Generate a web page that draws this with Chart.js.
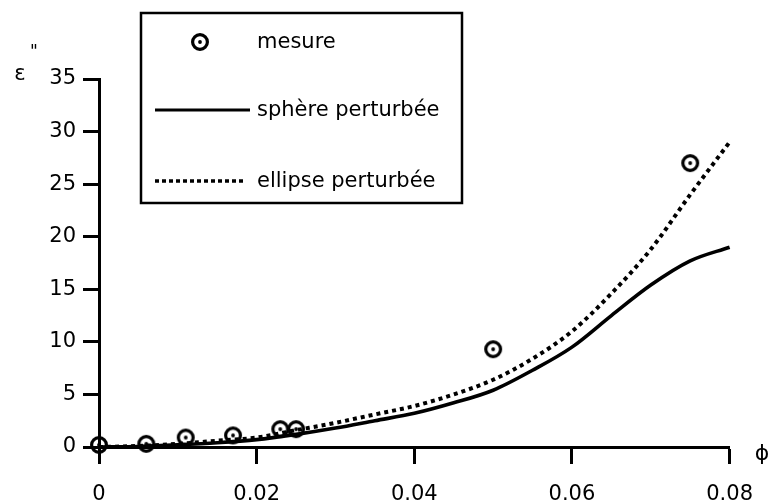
<!DOCTYPE html>
<html>
<head>
<meta charset="utf-8">
<script src="https://cdn.jsdelivr.net/npm/chart.js@4/dist/chart.umd.min.js"></script>
<style>
	html, body { margin: 0; padding: 0; background: #fff; }
	#wrap { width: 771px; height: 502px; }
</style>
</head>
<body>
<div id="wrap"><canvas id="eps-chart" width="771" height="502"></canvas></div>
<script>
// volume fraction grid for the model curves
const phiGrid = [0, 0.005, 0.01, 0.015, 0.02, 0.025, 0.03, 0.035, 0.04, 0.045, 0.05, 0.055, 0.06, 0.065, 0.07, 0.075, 0.08]
const sphereValues = [0, 0.05, 0.2, 0.4, 0.7, 1.2, 1.8, 2.5, 3.2, 4.2, 5.4, 7.3, 9.5, 12.5, 15.4, 17.7, 19.0]
const ellipseValues = [0, 0.1, 0.3, 0.6, 0.9, 1.6, 2.3, 3.1, 3.9, 5.0, 6.4, 8.4, 11.0, 14.6, 18.8, 24.0, 29.0]

// measured points
const mesurePhi = [0, 0.006, 0.011, 0.017, 0.023, 0.025, 0.05, 0.075]
const mesureValues = [0.2, 0.3, 0.9, 1.1, 1.7, 1.7, 9.3, 27.0]

const xTicks = [0, 0.02, 0.04, 0.06, 0.08]
const yTicks = [0, 5, 10, 15, 20, 25, 30, 35]

const legendLabels = ['mesure', 'sphère perturbée', 'ellipse perturbée']

const FONT = '"DejaVu Sans", "Liberation Sans", sans-serif'

toPoints = (xs, ys) => xs.map((x, i) => ({ x: x, y: ys[i] }))

// circle with a dot in the middle
makeMarker = () => {
	const c = document.createElement('canvas')
	c.width = 22
	c.height = 22
	const g = c.getContext('2d')
	g.strokeStyle = '#000'
	g.lineWidth = 3.2
	g.beginPath()
	g.arc(11, 11, 7.4, 0, Math.PI * 2)
	g.stroke()
	g.fillStyle = '#000'
	g.beginPath()
	g.arc(11, 11, 1.9, 0, Math.PI * 2)
	g.fill()
	return c
}
const marker = makeMarker()

const boxLegend = {
	id: 'boxLegend',
	afterDraw: (chart) => {
		const ctx = chart.ctx
		ctx.save()
		ctx.strokeStyle = '#000'
		ctx.fillStyle = '#000'
		ctx.lineWidth = 2.5
		ctx.strokeRect(141, 13, 321, 190)

		ctx.drawImage(marker, 200 - 11, 42 - 11)

		ctx.lineWidth = 3
		ctx.beginPath()
		ctx.moveTo(155, 110)
		ctx.lineTo(250, 110)
		ctx.stroke()

		ctx.lineWidth = 3.5
		ctx.setLineDash([4, 3])
		ctx.beginPath()
		ctx.moveTo(155, 181)
		ctx.lineTo(246, 181)
		ctx.stroke()
		ctx.setLineDash([])

		ctx.font = '21px ' + FONT
		ctx.textBaseline = 'alphabetic'
		ctx.textAlign = 'left'
		ctx.fillText(legendLabels[0], 257, 48)
		ctx.fillText(legendLabels[1], 257, 116)
		ctx.fillText(legendLabels[2], 257, 187)

		// axis symbols
		ctx.textAlign = 'center'
		ctx.textBaseline = 'middle'
		ctx.font = '21px ' + FONT
		ctx.fillText('ε', 20, 75)
		ctx.font = '17px ' + FONT
		ctx.fillText('"', 34, 53)
		ctx.font = '22px ' + FONT
		ctx.fillText('ϕ', 762, 454)
		ctx.restore()
	}
}

const config = {
	type: 'scatter',
	data: {
		datasets: [
			{
				label: legendLabels[0],
				data: toPoints(mesurePhi, mesureValues),
				pointStyle: marker,
				pointRadius: 11,
				showLine: false,
				clip: false,
				order: 0
			},
			{
				label: legendLabels[1],
				data: toPoints(phiGrid, sphereValues),
				showLine: true,
				borderColor: '#000',
				borderWidth: 3.6,
				pointRadius: 0,
				cubicInterpolationMode: 'monotone',
				clip: false,
				order: 1
			},
			{
				label: legendLabels[2],
				data: toPoints(phiGrid, ellipseValues),
				showLine: true,
				borderColor: '#000',
				borderWidth: 4,
				borderDash: [4, 4],
				pointRadius: 0,
				cubicInterpolationMode: 'monotone',
				clip: false,
				order: 2
			}
		]
	},
	options: {
		responsive: false,
		animation: false,
		layout: { padding: { top: 79, right: 32, left: 0, bottom: 0 } },
		plugins: {
			legend: { display: false },
			tooltip: { enabled: false }
		},
		scales: {
			x: {
				type: 'linear',
				min: 0,
				max: 0.08,
				afterFit: (scale) => { scale.height = 55 },
				afterBuildTicks: (scale) => { scale.ticks = xTicks.map((v) => ({ value: v })) },
				border: { display: true, color: '#000', width: 3 },
				grid: { drawOnChartArea: false, drawTicks: true, tickLength: 17, tickWidth: 3, tickColor: '#000' },
				ticks: {
					color: '#000',
					padding: 18,
					maxRotation: 0,
					font: { family: FONT, size: 21 },
					callback: (v) => v === 0 ? '0' : v.toFixed(2)
				}
			},
			y: {
				type: 'linear',
				min: 0,
				max: 35,
				afterFit: (scale) => { scale.width = 99 },
				afterBuildTicks: (scale) => { scale.ticks = yTicks.map((v) => ({ value: v })) },
				border: { display: true, color: '#000', width: 3 },
				grid: { drawOnChartArea: false, drawTicks: true, tickLength: 16, tickWidth: 3, tickColor: '#000' },
				ticks: {
					color: '#000',
					padding: 7,
					font: { family: FONT, size: 21 }
				}
			}
		}
	},
	plugins: [boxLegend]
}

const ctx = document.querySelector('#eps-chart').getContext('2d')
const epsChart = new Chart(ctx, config)
</script>
</body>
</html>
